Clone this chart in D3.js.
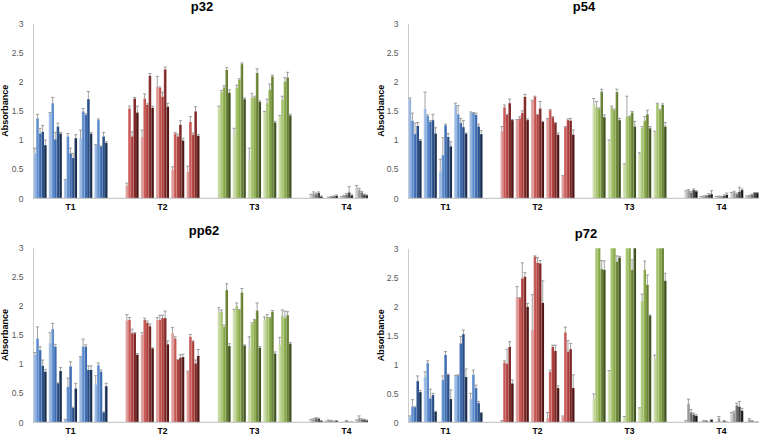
<!DOCTYPE html>
<html><head><meta charset="utf-8">
<script src="https://cdn.jsdelivr.net/npm/d3@7/dist/d3.min.js"></script>
<style>
html,body{margin:0;padding:0;background:#fff;}
svg{display:block;font-family:"Liberation Sans",Arial,sans-serif;}
</style></head>
<body>
<svg id="chart" width="760" height="435"></svg>
<script>
const groups = ["T1","T2","T3","T4"];
const yTicks = [0,0.5,1,1.5,2,2.5,3];
const yLabel = "Absorbance";
const titles = ["p32","p54","pp62","p72"];

const blueShades  = ["#9dbce6","#5f90d2","#3f6fb8","#2a518c","#1a3055"];
const redShades   = ["#e3a09d","#cc5a57","#b3403d","#832826","#531715"];
const greenShades = ["#cfe0aa","#aac873","#8cae48","#6a8533","#425720"];
const grayShades  = ["#cfcfcf","#9c9c9c","#707070","#424242","#1a1a1a"];

const p32Val = [
 [0.77,1.37,1.11,1.14,0.91, 1.46,1.63,1.01,1.23,1.11, 0.31,1.06,0.77,0.69,1.03, 1.03,1.49,1.43,1.70,1.11, 0.91,1.34,0.89,1.06,0.95],
 [0.22,1.54,1.06,1.71,1.47, 1.05,1.71,1.60,2.10,1.55, 1.91,1.89,1.74,2.21,1.57, 0.49,1.11,1.06,1.26,0.99, 0.45,1.31,1.09,1.49,1.07],
 [1.56,1.82,1.90,2.20,1.81, 1.09,1.90,2.03,2.30,1.70, 0.65,1.73,1.73,2.15,1.65, 1.47,1.63,1.86,2.09,1.30, 1.40,1.69,2.00,2.07,1.42],
 [0.05,0.08,0.07,0.09,0.03, 0.00,0.01,0.02,0.03,0.04, 0.02,0.04,0.06,0.10,0.05, 0.18,0.14,0.10,0.06,0.05, 0.03,0.05,0.04,0.06,0.03]
];
const p32Err = [
 [0.09,0.07,0.09,0.11,0.09, 0.01,0.10,0.12,0.06,0.02, 0.01,0.05,0.09,0.08,0.06, 0.14,0.05,0.02,0.13,0.02, 0.01,0.02,0.01,0.07,0.02],
 [0.04,0.04,0.08,0.02,0.11, 0.12,0.08,0.02,0.04,0.03, 0.18,0.02,0.08,0.04,0.06, 0.05,0.02,0.04,0.07,0.04, 0.10,0.09,0.03,0.08,0.02],
 [0.02,0.03,0.03,0.04,0.05, 0.11,0.04,0.02,0.02,0.02, 0.21,0.07,0.02,0.07,0.02, 0.02,0.07,0.10,0.02,0.02, 0.02,0.06,0.07,0.09,0.02],
 [0.02,0.03,0.02,0.02,0.01, 0.00,0.01,0.01,0.01,0.02, 0.01,0.01,0.02,0.10,0.01, 0.04,0.03,0.02,0.01,0.01, 0.01,0.01,0.01,0.01,0.01]
];
const p54Val = [
 [1.70,1.33,1.10,1.24,0.99, 1.53,1.41,1.31,1.34,1.11, 0.46,0.74,1.25,1.05,0.89, 1.60,1.44,1.29,1.22,1.11, 1.47,1.46,1.43,1.23,1.10],
 [1.15,1.56,1.43,1.63,1.34, 1.34,1.37,1.46,1.74,1.34, 1.67,1.74,1.43,1.54,1.31, 1.36,1.51,1.39,1.29,1.09, 0.38,1.22,1.34,1.33,1.09],
 [1.62,1.56,1.53,1.83,1.39, 0.98,1.56,1.51,1.82,1.34, 0.57,1.40,1.40,1.47,1.23, 0.76,1.21,1.33,1.44,1.20, 1.13,1.62,1.51,1.60,1.23],
 [0.11,0.13,0.10,0.14,0.12, 0.02,0.03,0.04,0.06,0.07, 0.02,0.03,0.02,0.04,0.06, 0.08,0.10,0.07,0.11,0.14, 0.03,0.04,0.06,0.09,0.09]
];
const p54Err = [
 [0.02,0.13,0.19,0.06,0.02, 0.29,0.02,0.02,0.10,0.10, 0.21,0.30,0.02,0.06,0.08, 0.03,0.15,0.08,0.11,0.01, 0.01,0.01,0.03,0.04,0.06],
 [0.08,0.04,0.01,0.07,0.01, 0.01,0.03,0.04,0.04,0.02, 0.01,0.01,0.01,0.12,0.01, 0.01,0.01,0.01,0.01,0.03, 0.01,0.01,0.02,0.04,0.08],
 [0.09,0.10,0.02,0.04,0.04, 0.02,0.02,0.02,0.05,0.03, 0.02,0.35,0.01,0.02,0.09, 0.02,0.02,0.07,0.07,0.03, 0.02,0.01,0.01,0.02,0.07],
 [0.02,0.02,0.02,0.02,0.01, 0.01,0.01,0.01,0.02,0.06, 0.01,0.01,0.01,0.02,0.03, 0.02,0.02,0.02,0.08,0.02, 0.01,0.01,0.01,0.01,0.01]
];
const pp62Val = [
 [1.16,1.44,1.24,0.97,0.87, 1.36,1.60,1.30,0.67,0.88, 0.04,0.61,0.96,0.25,0.58, 1.12,1.30,1.30,0.90,0.90, 0.65,0.98,0.87,0.17,0.62],
 [1.75,1.76,1.53,1.53,1.16, 1.50,1.76,1.71,1.65,1.27, 1.76,1.76,1.79,1.79,1.34, 1.53,1.44,1.07,1.11,1.12, 0.87,1.47,1.39,1.01,1.14],
 [1.90,1.90,1.64,2.27,1.31, 1.93,2.00,1.93,2.23,1.32, 1.27,1.69,1.76,1.92,1.28, 1.76,1.81,1.79,1.90,1.18, 1.33,1.83,1.79,1.84,1.35],
 [0.04,0.05,0.07,0.06,0.02, 0.01,0.03,0.02,0.01,0.02, 0.01,0.01,0.02,0.01,0.01, 0.03,0.07,0.05,0.04,0.03, 0.02,0.03,0.02,0.01,0.01]
];
const pp62Err = [
 [0.04,0.20,0.06,0.10,0.04, 0.18,0.10,0.04,0.01,0.06, 0.01,0.15,0.08,0.01,0.09, 0.01,0.13,0.03,0.07,0.07, 0.15,0.04,0.03,0.01,0.05],
 [0.10,0.04,0.07,0.01,0.02, 0.04,0.03,0.03,0.04,0.01, 0.04,0.08,0.05,0.12,0.06, 0.10,0.03,0.01,0.05,0.05, 0.01,0.04,0.01,0.06,0.11],
 [0.07,0.03,0.03,0.11,0.04, 0.01,0.05,0.01,0.07,0.01, 0.20,0.02,0.01,0.13,0.02, 0.05,0.04,0.01,0.02,0.03, 0.13,0.10,0.12,0.06,0.02],
 [0.01,0.01,0.01,0.01,0.01, 0.01,0.01,0.01,0.01,0.01, 0.00,0.00,0.01,0.00,0.00, 0.01,0.04,0.01,0.01,0.01, 0.01,0.01,0.01,0.00,0.00]
];
const p72Val = [
 [0.10,0.27,0.26,0.71,0.52, 0.78,1.02,0.41,0.47,0.18, 0.01,0.73,1.16,0.82,0.40, 0.80,0.81,1.36,1.52,0.78, 0.40,0.82,0.59,0.33,0.16],
 [0.02,1.03,1.01,1.30,0.67, 2.16,2.14,2.48,2.51,1.99, 1.59,2.86,2.75,2.74,2.06, 0.07,0.87,1.30,1.23,0.59, 0.10,1.55,1.22,1.26,0.59],
 [0.40,3.20,3.20,2.64,2.63, 0.87,3.20,3.20,2.77,2.84, 0.08,3.20,3.20,2.63,3.20, 0.24,2.09,2.63,2.37,1.84, 1.09,3.20,3.20,3.20,2.44],
 [0.02,0.32,0.17,0.13,0.11, 0.01,0.02,0.02,0.01,0.04, 0.01,0.07,0.01,0.02,0.01, 0.16,0.17,0.29,0.27,0.20, 0.01,0.04,0.02,0.01,0.01]
];
const p72Err = [
 [0.01,0.12,0.01,0.09,0.03, 0.09,0.04,0.16,0.03,0.01, 0.00,0.07,0.06,0.01,0.16, 0.01,0.01,0.12,0.07,0.14, 0.10,0.08,0.05,0.03,0.01],
 [0.01,0.03,0.25,0.09,0.06, 0.18,0.01,0.27,0.07,0.06, 0.61,0.01,0.09,0.05,0.38, 0.10,0.03,0.03,0.10,0.04, 0.01,0.09,0.19,0.10,0.23],
 [0.09,0.00,0.00,0.15,0.15, 0.02,0.00,0.00,0.10,0.02, 0.02,0.00,0.00,0.17,0.00, 0.01,0.12,0.15,0.17,0.01, 0.07,0.00,0.00,0.00,0.13],
 [0.01,0.08,0.05,0.03,0.02, 0.00,0.01,0.01,0.00,0.01, 0.00,0.03,0.00,0.01,0.00, 0.01,0.02,0.04,0.09,0.04, 0.00,0.02,0.01,0.00,0.00]
];

const palettes = [blueShades, redShades, greenShades, grayShades];
const vals = [p32Val, p54Val, pp62Val, p72Val];
const errs = [p32Err, p54Err, pp62Err, p72Err];

// layout (pixels) for each panel
const layout = [
  {ax:33,  y0:198.3, y3:23.3,  right:368, tx:202, ty:11,  lx:8},
  {ax:408, y0:198.3, y3:23.3,  right:759, tx:584, ty:11,  lx:384},
  {ax:33,  y0:422.3, y3:247.7, right:368, tx:204, ty:235, lx:8},
  {ax:408, y0:422.3, y3:248.3, right:759, tx:586, ty:238, lx:384}
];

const svg = d3.select("#chart");
const defs = svg.append("defs");

// gradients
palettes.forEach((pal, pi) => {
  pal.forEach((c, ci) => {
    const g = defs.append("linearGradient").attr("id", `g${pi}_${ci}`)
      .attr("x1","0").attr("x2","1").attr("y1","0").attr("y2","0");
    g.append("stop").attr("offset","0").attr("stop-color", d3.interpolateRgb(c, "#fff")(0.22));
    g.append("stop").attr("offset","0.45").attr("stop-color", c);
    g.append("stop").attr("offset","1").attr("stop-color", d3.color(c).darker(0.3));
  });
});

const clusterIdx = [0,1,2,3,4];
const shadeIdx = [0,1,2,3,4];

titles.forEach((title, p) => {
  const L = layout[p];
  const y = d3.scaleLinear().domain([0,3]).range([L.y0, L.y3]);
  const x = d3.scaleBand().domain(groups).range([L.ax - 8.5, L.ax + 359.5]).padding(0);
  const xc = d3.scaleBand().domain(clusterIdx).range([-37, 37]).paddingInner(0.14);
  const xb = d3.scaleBand().domain(shadeIdx).range([0, xc.bandwidth()]);

  const clipId = "clip" + p;
  defs.append("clipPath").attr("id", clipId).append("rect")
    .attr("x", L.ax).attr("y", L.y3).attr("width", L.right - L.ax).attr("height", L.y0 - L.y3);

  const g = svg.append("g");

  // y axis
  const yAxis = d3.axisLeft(y).tickValues(yTicks).tickSize(0).tickPadding(9.5)
    .tickFormat(d3.format("~g"));
  const ya = g.append("g").attr("transform", `translate(${L.ax},0)`).call(yAxis);
  ya.select(".domain").attr("stroke", "#cccccc").attr("stroke-width", 1);
  ya.selectAll("text").attr("font-size", "8.5px").attr("fill", "#595959")
    .attr("font-family", "'Liberation Sans', Arial, sans-serif");

  // bars
  const plot = g.append("g").attr("clip-path", `url(#${clipId})`);
  const data = [];
  groups.forEach((gr, gi) => {
    vals[p][gi].forEach((v, k) => {
      data.push({gr, gi, c: Math.floor(k/5), s: k%5, v, e: errs[p][gi][k]});
    });
  });
  const bx = d => x(d.gr) + x.bandwidth()/2 + xc(d.c) + xb(d.s);
  plot.selectAll("rect.bar").data(data).join("rect").attr("class","bar")
    .attr("x", bx)
    .attr("width", xb.bandwidth())
    .attr("y", d => y(d.v))
    .attr("height", d => y(0) - y(d.v))
    .attr("fill", d => `url(#g${d.gi}_${d.s})`);

  // error bars
  const eb = plot.selectAll("g.err").data(data.filter(d => d.e > 0)).join("g").attr("class","err");
  eb.append("line")
    .attr("x1", d => bx(d) + xb.bandwidth()/2).attr("x2", d => bx(d) + xb.bandwidth()/2)
    .attr("y1", d => y(d.v)).attr("y2", d => y(d.v + d.e))
    .attr("stroke", "#8a8a8a").attr("stroke-width", 0.8);
  eb.append("line")
    .attr("x1", d => bx(d) + xb.bandwidth()/2 - 1.6).attr("x2", d => bx(d) + xb.bandwidth()/2 + 1.6)
    .attr("y1", d => y(d.v + d.e)).attr("y2", d => y(d.v + d.e))
    .attr("stroke", "#8a8a8a").attr("stroke-width", 0.8);

  // x axis
  g.append("line").attr("x1", L.ax).attr("x2", L.right).attr("y1", y(0)).attr("y2", y(0))
    .attr("stroke", "#bdbdbd").attr("stroke-width", 1);
  const xAxis = d3.axisBottom(x).tickSize(0).tickPadding(6);
  const xa = g.append("g").attr("transform", `translate(0,${y(0)})`).call(xAxis);
  xa.select(".domain").remove();
  xa.selectAll("text").attr("font-size", "8.5px").attr("font-weight", "bold").attr("fill", "#000")
    .attr("font-family", "'Liberation Sans', Arial, sans-serif");

  // y label
  g.append("text")
    .attr("transform", `translate(${L.lx},${(L.y0 + L.y3)/2}) rotate(-90)`)
    .attr("text-anchor", "middle")
    .attr("font-size", "9px").attr("font-weight", "bold").attr("fill", "#000")
    .text(yLabel);

  // title
  g.append("text").attr("x", L.tx).attr("y", L.ty).attr("text-anchor", "middle")
    .attr("font-size", "13px").attr("font-weight", "bold").attr("fill", "#000")
    .text(title);
});
</script>
</body></html>
